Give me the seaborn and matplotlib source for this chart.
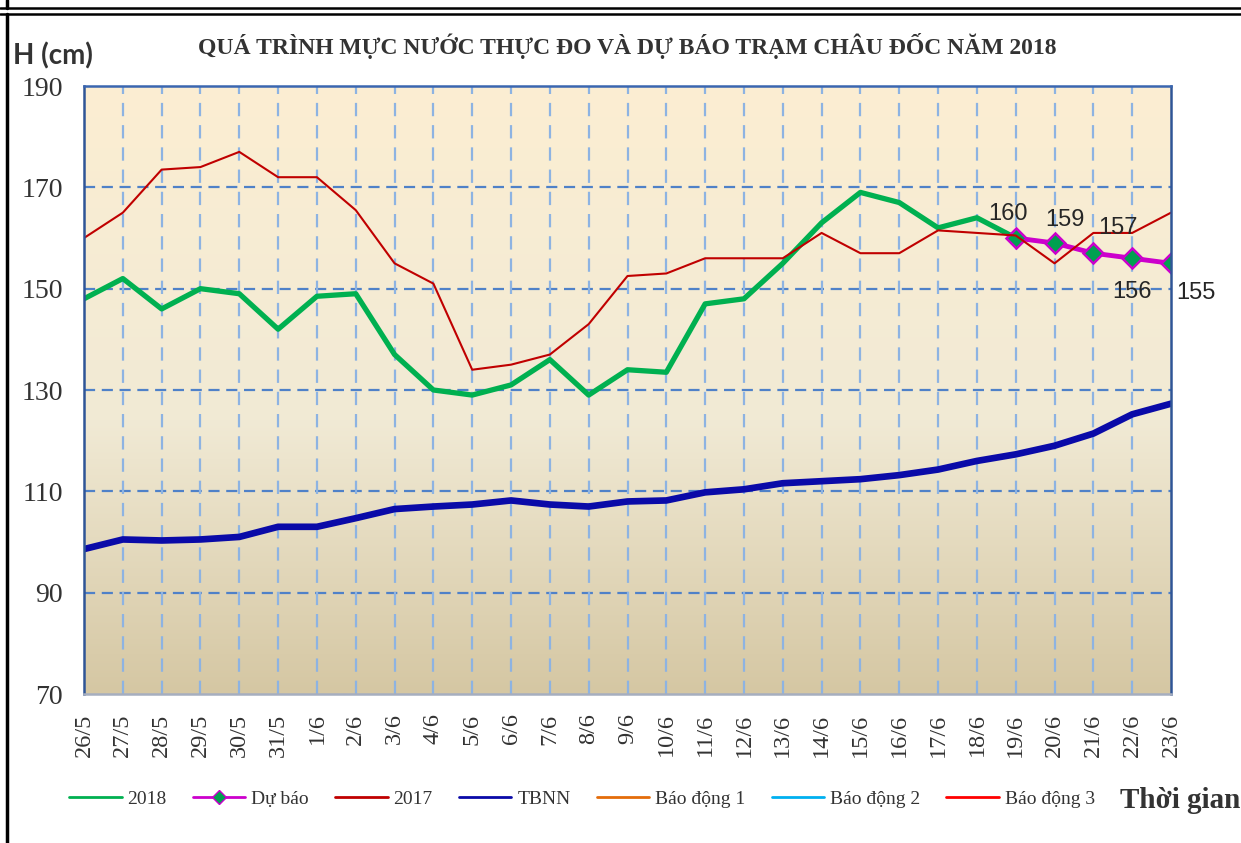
import numpy as np
import pandas as pd
import matplotlib.pyplot as plt
import seaborn as sns
from matplotlib.colors import LinearSegmentedColormap
from matplotlib.lines import Line2D

# Data
dates = ['26/5', '27/5', '28/5', '29/5', '30/5', '31/5', '1/6', '2/6', '3/6', '4/6',
         '5/6', '6/6', '7/6', '8/6', '9/6', '10/6', '11/6', '12/6', '13/6', '14/6',
         '15/6', '16/6', '17/6', '18/6', '19/6', '20/6', '21/6', '22/6', '23/6']
h2018 = [148, 152, 146, 150, 149, 142, 148.5, 149, 137, 130, 129, 131, 136, 129,
         134, 133.5, 147, 148, 155, 163, 169, 167, 162, 164, 160]
forecast_dates = ['19/6', '20/6', '21/6', '22/6', '23/6']
forecast = [160, 159, 157, 156, 155]
h2017 = [160, 165, 173.5, 174, 177, 172, 172, 165.5, 155, 151, 134, 135, 137, 143,
         152.5, 153, 156, 156, 156, 161, 157, 157, 161.5, 161, 160.5, 155, 161, 161, 165]
tbnn = [98.6, 100.5, 100.3, 100.5, 101, 103, 103, 104.7, 106.5, 107, 107.4, 108.2,
        107.4, 107, 108, 108.2, 109.8, 110.4, 111.6, 112, 112.4, 113.2, 114.3, 116,
        117.3, 119, 121.4, 125.2, 127.3]
y_ticks = [70, 90, 110, 130, 150, 170, 190]

pos = {d: i for i, d in enumerate(dates)}
df_2018 = pd.DataFrame({'x': [pos[d] for d in dates[:len(h2018)]], 'H': h2018})
df_fc = pd.DataFrame({'x': [pos[d] for d in forecast_dates], 'H': forecast})
df_2017 = pd.DataFrame({'x': range(len(dates)), 'H': h2017})
df_tbnn = pd.DataFrame({'x': range(len(dates)), 'H': tbnn})

sns.set_style('white')
plt.rcParams['font.family'] = ['Liberation Serif', 'DejaVu Serif']

fig = plt.figure(figsize=(12.41, 8.43), dpi=100)
ax = fig.add_axes([84 / 1241, 1 - 694 / 843, 1087 / 1241, 608 / 843])

# Plot-area gradient background
grad = LinearSegmentedColormap.from_list('bg', [(0, '#D5C7A3'), (0.45, '#F1EAD5'), (1, '#FCEED2')])
ax.imshow(np.linspace(0, 1, 256).reshape(-1, 1), cmap=grad, origin='lower', aspect='auto',
          extent=[0, len(dates) - 1, 70, 190], zorder=0)

# Grid
for yv in y_ticks[1:-1]:
    ax.axhline(yv, color='#4F81C8', lw=1.6, ls=(0, (5, 3)), zorder=1)
for i in range(1, len(dates) - 1):
    ax.axvline(i, color='#8DB3E2', lw=1.6, ls=(0, (6, 4)), zorder=1)

sns.lineplot(data=df_2018, x='x', y='H', color='#00B050', lw=3.8, ax=ax, zorder=3)
sns.lineplot(data=df_fc, x='x', y='H', color='#CC00CC', lw=3.5, marker='D', markersize=10,
             markerfacecolor='#00A050', markeredgecolor='#CC00CC', markeredgewidth=1.8, ax=ax, zorder=4)
sns.lineplot(data=df_2017, x='x', y='H', color='#C00000', lw=1.5, ax=ax, zorder=5)
sns.lineplot(data=df_tbnn, x='x', y='H', color='#0A0AA8', lw=4.8, ax=ax, zorder=3)

# Forecast value labels
offsets = [(-8, 24), (10, 23), (25, 25), (0, -34), (25, -30)]
for d, v, off in zip(forecast_dates, forecast, offsets):
    ax.annotate(f'{v}', (pos[d], v), xytext=off, textcoords='offset pixels',
                ha='center', va='center', fontsize=17, family='Liberation Sans', zorder=6)

ax.set_xlim(0, len(dates) - 1)
ax.set_ylim(70, 190)
ax.set_yticks(y_ticks)
ax.set_xticks(range(len(dates)))
ax.set_xticklabels(dates, rotation=90, fontsize=17.5, color='#333333')
ax.tick_params(axis='y', length=0, pad=15, labelsize=20, labelcolor='#333333')
ax.tick_params(axis='x', length=0, pad=14)
ax.set_xlabel('')
ax.set_ylabel('')
for side, c in [('left', '#2F5597'), ('right', '#2F5597'), ('top', '#3A66B0'), ('bottom', '#A6AEBF')]:
    ax.spines[side].set_visible(True)
    ax.spines[side].set_color(c)
    ax.spines[side].set_linewidth(1.8)
    ax.spines[side].set_zorder(7)

fig.text(627 / 1241, 1 - 46 / 843, 'QUÁ TRÌNH MỰC NƯỚC THỰC ĐO VÀ DỰ BÁO TRẠM CHÂU ĐỐC NĂM 2018',
         ha='center', va='center', fontsize=17, fontweight='bold', color='#333333')
fig.text(13 / 1241, 1 - 56 / 843, 'H (cm)', ha='left', va='center', fontsize=20,
         fontweight='bold', family='Lato', color='#333333')
fig.text(1240 / 1241, 1 - 800 / 843, 'Thời gian', ha='right', va='center', fontsize=21,
         fontweight='bold', color='#333333')

handles = [
    Line2D([], [], color='#00B050', lw=2),
    Line2D([], [], color='#CC00CC', lw=2, marker='D', markersize=7,
           markerfacecolor='#00A050', markeredgecolor='#CC00CC'),
    Line2D([], [], color='#C00000', lw=2),
    Line2D([], [], color='#0A0AA8', lw=2),
    Line2D([], [], color='#E46C0A', lw=2),
    Line2D([], [], color='#00B0F0', lw=2),
    Line2D([], [], color='#FF0000', lw=2),
]
labels = ['2018', 'Dự báo', '2017', 'TBNN', 'Báo động 1', 'Báo động 2', 'Báo động 3']
fig.legend(handles, labels, loc='center', bbox_to_anchor=(582 / 1241, 1 - 799 / 843), ncol=7,
           frameon=False, fontsize=14, handlelength=2.7, handletextpad=0.3, columnspacing=1.35,
           labelcolor='#333333')

# Page frame lines
fig.add_artist(Line2D([0, 1], [1 - 8 / 843] * 2, color='black', lw=1.8, transform=fig.transFigure))
fig.add_artist(Line2D([0, 1], [1 - 14 / 843] * 2, color='black', lw=1.8, transform=fig.transFigure))
fig.add_artist(Line2D([7 / 1241] * 2, [0, 1 - 14 / 843], color='black', lw=2.5, transform=fig.transFigure))
fig.add_artist(Line2D([7 / 1241] * 2, [1 - 8 / 843, 1], color='black', lw=2.5, transform=fig.transFigure))

fig.savefig('out.png', dpi=100)
